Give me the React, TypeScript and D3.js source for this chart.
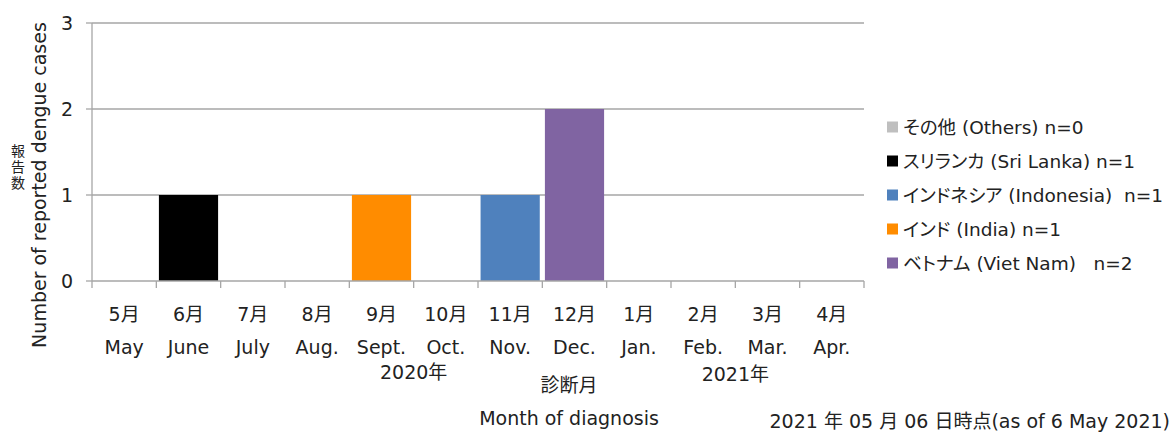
import * as d3 from 'd3';

// months on the x axis
const monthsJa = ['5月', '6月', '7月', '8月', '9月', '10月', '11月', '12月', '1月', '2月', '3月', '4月'];
const monthsEn = ['May', 'June', 'July', 'Aug.', 'Sept.', 'Oct.', 'Nov.', 'Dec.', 'Jan.', 'Feb.', 'Mar.', 'Apr.'];

// cases per country per month (stack order bottom -> top)
const vietNam = [0, 0, 0, 0, 0, 0, 0, 2, 0, 0, 0, 0];
const india = [0, 0, 0, 0, 1, 0, 0, 0, 0, 0, 0, 0];
const indonesia = [0, 0, 0, 0, 0, 0, 1, 0, 0, 0, 0, 0];
const sriLanka = [0, 1, 0, 0, 0, 0, 0, 0, 0, 0, 0, 0];
const others = [0, 0, 0, 0, 0, 0, 0, 0, 0, 0, 0, 0];

const yTicks = [0, 1, 2, 3];

// legend, top to bottom
const legendLabels = [
  'その他 (Others) n=0',
  'スリランカ (Sri Lanka) n=1',
  'インドネシア (Indonesia)  n=1',
  'インド (India) n=1',
  'ベトナム (Viet Nam)   n=2',
];

const FONT = '"DejaVu Sans", "Noto Sans CJK JP", sans-serif';

const App = () => {
  const W = 1174, H = 433;
  const left = 92, right = 864, top = 23, bottom = 281;

  const series = [
    { key: 'vietNam', values: vietNam, color: '#8064A2' },
    { key: 'india', values: india, color: '#FF8C00' },
    { key: 'indonesia', values: indonesia, color: '#4F81BD' },
    { key: 'sriLanka', values: sriLanka, color: '#000000' },
    { key: 'others', values: others, color: '#BFBFBF' },
  ];
  const legendColors = ['#BFBFBF', '#000000', '#4F81BD', '#FF8C00', '#8064A2'];

  const x = d3.scaleBand<string>()
    .domain(monthsJa)
    .range([left, right])
    .paddingInner(0.08)
    .paddingOuter(0.04);
  const step = x.step();
  const pad = step * 0.04;

  const y = d3.scaleLinear().domain([0, 3]).range([bottom, top]);

  const rows = monthsJa.map((m, i) => {
    const r: any = { m };
    series.forEach(s => (r[s.key] = s.values[i]));
    return r;
  });
  const stacked = d3.stack().keys(series.map(s => s.key))(rows);

  const bounds = d3.range(monthsJa.length + 1).map(i =>
    i < monthsJa.length ? (x(monthsJa[i]) as number) - pad : right
  );

  const grid = '#A6A6A6';
  const ink = '#222';

  return (
    <svg width={W} height={H} style={{ position: 'absolute', left: 0, top: 0, fontFamily: FONT, fontFeatureSettings: '"palt"' }}>
      <rect width={W} height={H} fill="#fff" />
      {/* gridlines */}
      {yTicks.filter(t => t > 0).map(t => (
        <line key={t} x1={left} x2={right} y1={y(t)} y2={y(t)} stroke={grid} strokeWidth={1.3} />
      ))}
      {/* bars */}
      {stacked.map((layer, li) =>
        layer.map((d, i) =>
          d[1] - d[0] > 0 ? (
            <rect
              key={li + '-' + i}
              x={x(monthsJa[i])}
              width={x.bandwidth()}
              y={y(d[1])}
              height={y(d[0]) - y(d[1])}
              fill={series[li].color}
            />
          ) : null
        )
      )}
      {/* y axis */}
      <line x1={left} x2={left} y1={top} y2={bottom} stroke={grid} strokeWidth={1.3} />
      {yTicks.map(t => (
        <g key={t}>
          <line x1={left - 6} x2={left} y1={y(t)} y2={y(t)} stroke={grid} strokeWidth={1.3} />
          <text x={73} y={y(t)} dy="0.36em" textAnchor="end" fontSize={19} fill={ink}>{t}</text>
        </g>
      ))}
      {/* x axis */}
      <line x1={left} x2={right} y1={bottom} y2={bottom} stroke={grid} strokeWidth={1.3} />
      {bounds.map((b, i) => (
        <line key={i} x1={b} x2={b} y1={bottom} y2={bottom + 7} stroke={grid} strokeWidth={1.3} />
      ))}
      {monthsJa.map((m, i) => {
        const cx = (x(m) as number) + x.bandwidth() / 2;
        return (
          <g key={m}>
            <text x={cx} y={314} dy="0.36em" textAnchor="middle" fontSize={19} fill={ink}>{m}</text>
            <text x={cx} y={347} dy="0.36em" textAnchor="middle" fontSize={19} fill={ink}>{monthsEn[i]}</text>
          </g>
        );
      })}
      <text x={bounds[5]} y={372} dy="0.36em" textAnchor="middle" fontSize={19} fill={ink}>2020年</text>
      <text x={bounds[10]} y={374} dy="0.36em" textAnchor="middle" fontSize={19} fill={ink}>2021年</text>
      <text x={569} y={385} dy="0.36em" textAnchor="middle" fontSize={19} fill={ink}>診断月</text>
      <text x={569} y={418} dy="0.36em" textAnchor="middle" fontSize={19} fill={ink}>Month of diagnosis</text>
      <text x={1170} y={421} dy="0.36em" textAnchor="end" fontSize={19} fill={ink}>2021 年 05 月 06 日時点(as of 6 May 2021)</text>
      {/* y axis titles */}
      <text transform={`translate(46,185) rotate(-90)`} textAnchor="middle" fontSize={19} fill={ink}>Number of reported dengue cases</text>
      {['報', '告', '数'].map((c, i) => (
        <text key={c} x={18} y={151 + i * 16} dy="0.36em" textAnchor="middle" fontSize={14} fill={ink}>{c}</text>
      ))}
      {/* legend */}
      {legendLabels.map((l, i) => {
        const cy = 127 + i * 34;
        return (
          <g key={l}>
            <rect x={887} y={cy - 5.5} width={11} height={11} fill={legendColors[i]} />
            <text x={903} y={cy} dy="0.36em" fontSize={18.5} fill={ink} style={{ whiteSpace: 'pre' }}>{l}</text>
          </g>
        );
      })}
    </svg>
  );
};

export default App;
